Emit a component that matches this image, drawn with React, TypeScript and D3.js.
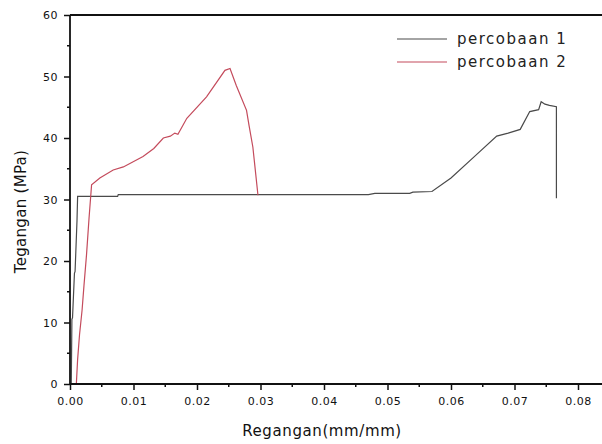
import { useEffect, useRef } from "react";
import * as d3 from "d3";

// strain (mm/mm) and stress (MPa)
const strain1 = [0.0002, 0.0003, 0.0004, 0.0007, 0.0008, 0.0011, 0.0012, 0.0075, 0.0076, 0.028, 0.041, 0.047, 0.048, 0.0535, 0.054, 0.057, 0.06, 0.0635, 0.0672, 0.069, 0.0709, 0.0724, 0.0738, 0.0742, 0.0748, 0.0755, 0.0766, 0.0766];
const stress1 = [0, 10.5, 10.8, 18, 18.3, 26.5, 30.5, 30.5, 30.8, 30.8, 30.8, 30.8, 31.0, 31.0, 31.2, 31.3, 33.5, 36.8, 40.3, 40.8, 41.4, 44.3, 44.6, 45.9, 45.5, 45.3, 45.1, 30.2];

const strain2 = [0.001, 0.0012, 0.0015, 0.0019, 0.0022, 0.0026, 0.003, 0.0034, 0.0047, 0.0068, 0.0084, 0.0115, 0.0132, 0.0147, 0.0158, 0.0165, 0.017, 0.0184, 0.0215, 0.0244, 0.0252, 0.0262, 0.0278, 0.0282, 0.0288, 0.0296];
const stress2 = [0, 4, 8, 12, 16, 21, 27, 32.4, 33.5, 34.8, 35.3, 37, 38.3, 40, 40.3, 40.8, 40.6, 43.2, 46.7, 51, 51.3, 48.5, 44.5, 42, 38.5, 30.7];

const seriesNames = ["percobaan 1", "percobaan 2"];
const seriesColors = ["#4a4a4a", "#c44b5c"];
const xTicks = [0, 0.01, 0.02, 0.03, 0.04, 0.05, 0.06, 0.07, 0.08];
const yTicks = [0, 10, 20, 30, 40, 50, 60];

const App = () => {
  const ref = useRef<SVGSVGElement>(null);

  useEffect(() => {
    const svg = d3.select(ref.current);
    svg.selectAll("*").remove();

    const left = 70, top = 15, bottom = 384;
    const x = d3.scaleLinear().domain([0, 0.085]).range([left, left + 0.085 * 6350]);
    const y = d3.scaleLinear().domain([0, 60]).range([bottom, top]);

    const line = d3.line<[number, number]>()
      .x(d => x(d[0]))
      .y(d => y(d[1]));

    const data = [
      strain1.map((s, i) => [s, stress1[i]] as [number, number]),
      strain2.map((s, i) => [s, stress2[i]] as [number, number])
    ];

    data.forEach((d, i) => {
      svg.append("path")
        .datum(d)
        .attr("d", line)
        .attr("fill", "none")
        .attr("stroke", seriesColors[i])
        .attr("stroke-width", 1.2);
    });

    // frame
    svg.append("line")
      .attr("x1", left).attr("x2", 602)
      .attr("y1", top).attr("y2", top)
      .attr("stroke", "#111").attr("stroke-width", 1.8);

    const font = "'DejaVu Sans', Arial, sans-serif";

    // x axis
    const xAxis = d3.axisBottom(x).tickValues(xTicks).tickSize(6).tickFormat(d3.format(".2f"));
    const gx = svg.append("g").attr("transform", `translate(0,${bottom})`).call(xAxis);
    gx.select(".domain").attr("d", `M${left},0H602`).attr("stroke", "#111").attr("stroke-width", 1.8);
    gx.selectAll(".tick line").attr("stroke", "#111").attr("stroke-width", 1.5);
    gx.selectAll(".tick text").attr("y", 13).attr("font-size", 11).attr("letter-spacing", 0.5)
      .attr("font-family", font).attr("fill", "#111");
    gx.selectAll(".minor")
      .data(xTicks.map(t => t + 0.005))
      .join("line")
      .attr("class", "minor")
      .attr("x1", d => x(d)).attr("x2", d => x(d))
      .attr("y1", 0).attr("y2", 3)
      .attr("stroke", "#111").attr("stroke-width", 1.5);

    // y axis
    const yAxis = d3.axisLeft(y).tickValues(yTicks).tickSize(6).tickPadding(6);
    const gy = svg.append("g").attr("transform", `translate(${left},0)`).call(yAxis);
    gy.select(".domain").attr("d", `M0,${bottom}V${top}`).attr("stroke", "#111").attr("stroke-width", 1.8);
    gy.selectAll(".tick line").attr("stroke", "#111").attr("stroke-width", 1.5);
    gy.selectAll(".tick text").attr("font-size", 11).attr("letter-spacing", 0.5)
      .attr("font-family", font).attr("fill", "#111");
    gy.selectAll(".minor")
      .data(yTicks.slice(0, -1).map(t => t + 5))
      .join("line")
      .attr("class", "minor")
      .attr("x1", 0).attr("x2", -3)
      .attr("y1", d => y(d)).attr("y2", d => y(d))
      .attr("stroke", "#111").attr("stroke-width", 1.5);

    // axis titles
    svg.append("text")
      .attr("x", 322).attr("y", 436)
      .attr("text-anchor", "middle")
      .attr("font-family", font).attr("font-size", 15).attr("letter-spacing", 0.6).attr("fill", "#111")
      .text("Regangan(mm/mm)");

    svg.append("text")
      .attr("transform", `translate(26,${(top + bottom) / 2 + 12}) rotate(-90)`)
      .attr("text-anchor", "middle")
      .attr("font-family", font).attr("font-size", 15).attr("letter-spacing", 0.3).attr("fill", "#111")
      .text("Tegangan (MPa)");

    // legend
    const lg = svg.append("g");
    seriesNames.forEach((n, i) => {
      const ly = 39 + i * 23;
      lg.append("line")
        .attr("x1", 397).attr("x2", 447)
        .attr("y1", ly).attr("y2", ly)
        .attr("stroke", seriesColors[i]).attr("stroke-width", 1.2);
      lg.append("text")
        .attr("x", 457).attr("y", ly + 5)
        .attr("font-family", font).attr("font-size", 15).attr("letter-spacing", 1.5).attr("fill", "#222")
        .text(n);
    });
  }, []);

  return (
    <svg ref={ref} width={602} height={444}
      style={{ position: "absolute", left: 0, top: 0, background: "#fff" }} />
  );
};

export default App;
